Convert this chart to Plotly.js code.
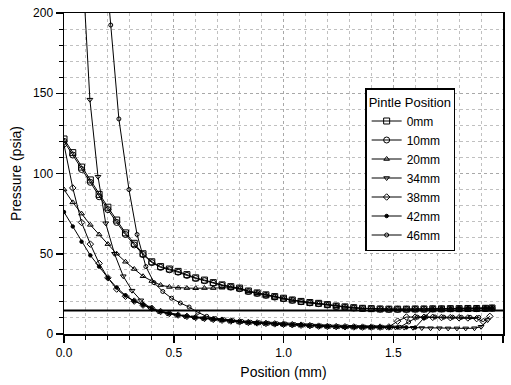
<!DOCTYPE html>
<html>
<head>
<meta charset="utf-8">
<script src="https://cdn.plot.ly/plotly-3.0.1.min.js"></script>
<style>html,body{margin:0;padding:0;background:#fff;}#chart{width:511px;height:385px;}</style>
</head>
<body>
<div id="chart"></div>
<script>
// Positions (mm)
const xStd = [0,0.04,0.08,0.12,0.16,0.2,0.24,0.28,0.32,0.36,0.4,0.44,0.48,0.52,0.56,0.6,0.64,0.68,0.72,0.76,0.8,0.84,0.88,0.92,0.96,1,1.04,1.08,1.12,1.16,1.2,1.24,1.28,1.32,1.36,1.4,1.44,1.48,1.52,1.56,1.6,1.64,1.68,1.72,1.76,1.8,1.84,1.88,1.92,1.95];
const x38 = [0,0.04,0.08,0.12,0.16,0.2,0.24,0.28,0.32,0.36,0.4,0.44,0.48,0.52,0.56,0.6,0.64,0.68,0.72,0.76,0.8,0.84,0.88,0.92,0.96,1,1.04,1.08,1.12,1.16,1.2,1.24,1.28,1.32,1.36,1.4,1.44,1.48,1.52,1.56,1.6,1.64,1.68,1.72,1.76,1.8,1.84,1.88,1.91,1.94];
const x34 = [0.085,0.118,0.155,0.19,0.23,0.27,0.31,0.35,0.39,0.43,0.47,0.51,0.55,0.59,0.63,0.67,0.71,0.75,0.79,0.83,0.87,0.91,0.95,0.99,1.03,1.07,1.11,1.15,1.19,1.23,1.27,1.31,1.35,1.39,1.43,1.47,1.51,1.55,1.59,1.63,1.67,1.71,1.75,1.79,1.83,1.87,1.9,1.93];
const x46 = [0.2,0.213,0.25,0.296,0.333,0.373,0.41,0.45,0.49,0.53,0.57,0.61,0.65,0.69,0.73,0.77,0.81,0.85,0.89,0.93,0.97,1.01,1.05,1.09,1.13,1.17,1.21,1.25,1.29,1.33,1.37,1.41,1.45,1.49,1.53,1.57,1.61,1.65,1.69,1.73,1.77,1.81,1.85,1.89];

// Pressures (psia)
const y0mm = [121.5,113,104,96,87,79,71,63,56.5,50,45,42,40.5,39,37,35,33.6,32,30.6,29.5,28.6,26.8,25.6,24.4,23.3,22.3,21.2,20.3,19.6,19.1,18.3,17.4,16.9,16.4,16.0,15.8,15.6,15.5,15.5,15.5,15.6,15.6,15.7,15.7,15.8,15.8,15.9,15.9,16.0,16.2];
const y10mm = [120,111.5,102.5,94.5,85.5,77.5,69.5,62,55.5,49.5,44.5,41.5,40,38.5,36.5,34.6,33.2,31.6,30.3,29.2,28.2,26.5,25.3,24.1,23,22,21,20.1,19.4,18.9,18.1,17.2,16.7,16.2,15.9,15.7,15.5,15.4,15.4,15.4,15.5,15.5,15.6,15.6,15.7,15.7,15.8,15.8,15.9,16.1];
const y20mm = [90,82,75,68,62,56,50,45,40.5,36,33,30.5,29.3,28.8,28.6,28.5,28.6,28.6,28.8,28.8,28.3,26.6,25.4,24.2,23.1,22.1,21.1,20.2,19.5,19,18.2,17.3,16.8,16.3,15.9,15.7,15.5,15.4,15.4,15.4,15.5,15.5,15.6,15.6,15.7,15.7,15.8,15.8,15.9,16.1];
const y34mm = [227,146,98,69,50,36,27,21,16.5,14,12.8,11.8,11,10.4,9.8,9.3,8.8,8.2,7.7,7.3,7.0,6.7,6.5,6.2,6.0,5.7,5.5,5.2,4.9,4.7,4.6,4.5,4.4,4.3,4.3,4.2,4.1,4.0,3.9,3.7,3.6,3.6,3.5,3.5,3.5,3.6,4.5,8.7];
const y38mm = [118,91,69.5,56,44,35,28,23.5,20.5,18,16,14,12.8,11.8,11,10.3,9.7,9.1,8.6,8.1,7.6,7.2,6.9,6.6,6.3,6.1,5.8,5.5,5.2,4.9,4.7,4.6,4.5,4.4,4.3,4.3,4.3,4.4,8,10.6,10.5,10.4,10.4,10.3,10.2,10.1,10,9.6,7.7,11];
const y42mm = [76,67,57.5,49,42,35,29,24,20.5,18,15.8,14,12.8,11.8,11,10.3,9.7,9.1,8.6,8.1,7.6,7.2,6.9,6.6,6.3,6.1,5.8,5.5,5.2,4.9,4.7,4.6,4.5,4.4,4.3,4.3,4.2,4.2,4.1,4.1,4.0,10,15.6,15.8,15.9,16,16,16.1,16.2,16.3];
const y46mm = [213,192.5,134,90,62,42,32,26.5,22.3,19.3,16.8,13.5,11,9.6,8.9,8.3,7.8,7.3,7.0,6.7,6.4,6.2,5.9,5.6,5.3,5.0,4.8,4.6,4.5,4.4,4.3,4.3,4.2,4.2,4.2,7.5,10.5,10.6,10.6,10.5,10.5,10.4,10.4,10.3];

// Ambient reference line
const atmX = [0, 2];
const atmY = [14.7, 14.7];

const seriesNames = ['0mm','10mm','20mm','34mm','38mm','42mm','46mm'];

const mk = (sym, size) => ({symbol: sym, size: size, color: '#000', line: {color: '#000', width: 1}});
const ln = {color: '#000', width: 1};

const traces = [
  {x: atmX, y: atmY, mode: 'lines', line: {color: '#000', width: 2}, showlegend: false, hoverinfo: 'skip'},
  {x: xStd, y: y0mm, name: seriesNames[0], mode: 'lines+markers', line: ln, marker: mk('square-open', 6)},
  {x: xStd, y: y10mm, name: seriesNames[1], mode: 'lines+markers', line: ln, marker: mk('circle-open', 6)},
  {x: xStd, y: y20mm, name: seriesNames[2], mode: 'lines+markers', line: ln, marker: mk('triangle-up-open', 5)},
  {x: x34, y: y34mm, name: seriesNames[3], mode: 'lines+markers', line: ln, marker: mk('triangle-down-open', 5)},
  {x: x38, y: y38mm, name: seriesNames[4], mode: 'lines+markers', line: ln, marker: mk('diamond-open', 5)},
  {x: xStd, y: y42mm, name: seriesNames[5], mode: 'lines+markers', line: ln, marker: mk('circle', 3.5)},
  {x: x46, y: y46mm, name: seriesNames[6], mode: 'lines+markers', line: ln, marker: mk('circle-open', 4)}
];

const axisCommon = {
  showline: true, linecolor: '#000', linewidth: 1.5, mirror: true,
  ticks: 'outside', ticklen: 7, tickwidth: 1.5, tickcolor: '#000',
  showgrid: true, gridcolor: '#a8a8a8', gridwidth: 1, griddash: 'dot',
  zeroline: false, tickfont: {size: 12, color: '#000'},
};

const layout = {
  width: 511, height: 385,
  margin: {l: 64, r: 8, t: 13, b: 51, pad: 0},
  paper_bgcolor: '#fff', plot_bgcolor: '#fff',
  font: {family: 'Liberation Sans, Arial, sans-serif', color: '#000', size: 12},
  xaxis: Object.assign({}, axisCommon, {
    range: [0, 2], tick0: 0, dtick: 0.5, tickformat: '.1f',
    minor: {dtick: 0.1, ticks: 'outside', ticklen: 4, tickwidth: 1, tickcolor: '#000', showgrid: true, gridcolor: '#c0c0c0', griddash: 'dot', gridwidth: 1},
    title: {text: 'Position (mm)', font: {size: 14}, standoff: 8}
  }),
  yaxis: Object.assign({}, axisCommon, {
    range: [0, 200], tick0: 0, dtick: 50,
    minor: {dtick: 10, ticks: 'outside', ticklen: 4, tickwidth: 1, tickcolor: '#000', showgrid: true, gridcolor: '#c0c0c0', griddash: 'dot', gridwidth: 1},
    title: {text: 'Pressure (psia)', font: {size: 14}, standoff: 8}
  }),
  legend: {
    x: 0.686, y: 0.766, xanchor: 'left', yanchor: 'top',
    bgcolor: '#fff', bordercolor: '#000', borderwidth: 1.5,
    font: {size: 12, color: '#000'},
    title: {text: 'Pintle Position', font: {size: 13}},
    itemwidth: 30
  },
  showlegend: true
};

Plotly.newPlot('chart', traces, layout, {staticPlot: true, displayModeBar: false});
</script>
</body>
</html>
